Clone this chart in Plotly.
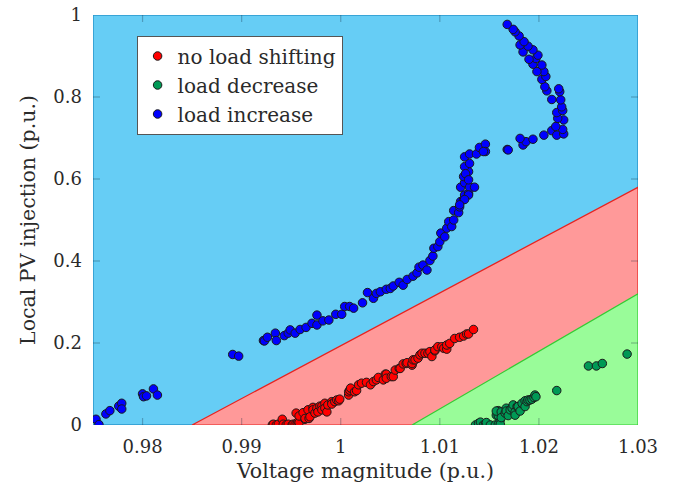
import plotly.graph_objects as go

# ---------------- data ----------------
blue_x = [0.9753, 0.9756, 0.9763, 0.9767, 0.9776, 0.9779, 0.9779, 0.9800, 0.9801, 0.9804,
          0.9811, 0.9815, 0.9891, 0.9897, 0.9922, 0.9923, 0.9926, 0.9934, 0.9935, 0.9943,
          0.9947, 0.9949, 0.9954, 0.9959, 0.9965, 0.9971, 0.9976, 0.9976, 0.9982, 0.9988,
          0.9995, 1.0001, 1.0004, 1.0009, 1.0013, 1.0022, 1.0027, 1.0033, 1.0036, 1.0040,
          1.0046, 1.0050, 1.0053, 1.0059, 1.0063, 1.0067, 1.0073, 1.0077, 1.0079, 1.0083,
          1.0087, 1.0090, 1.0093, 1.0094, 1.0098, 1.0100, 1.0101, 1.0105, 1.0107, 1.0109,
          1.0112, 1.0114, 1.0114, 1.0119, 1.0120, 1.0121, 1.0124, 1.0125, 1.0129, 1.0121,
          1.0125, 1.0130, 1.0135, 1.0124, 1.0129, 1.0125, 1.0130, 1.0125, 1.0130, 1.0137,
          1.0140, 1.0146, 1.0146, 1.0126, 1.0129, 1.0129, 1.0125, 1.0120, 1.0144,
          1.0168, 1.0169, 1.0184, 1.0187, 1.0181, 1.0194, 1.0205, 1.0213, 1.0218, 1.0225,
          1.0224, 1.0217, 1.0225, 1.0219, 1.0218, 1.0224, 1.0223, 1.0222, 1.0213, 1.0221,
          1.0220, 1.0208, 1.0206, 1.0203, 1.0207, 1.0205, 1.0198, 1.0203, 1.0194, 1.0197,
          1.0199, 1.0190, 1.0194, 1.0184, 1.0189, 1.0181, 1.0185, 1.0180, 1.0176, 1.0174,
          1.0168]
blue_y = [0.014, 0.001, 0.027, 0.035, 0.046, 0.053, 0.039, 0.076, 0.069, 0.071,
          0.088, 0.073, 0.172, 0.168, 0.206, 0.205, 0.214, 0.224, 0.206, 0.218,
          0.224, 0.232, 0.224, 0.233, 0.238, 0.248, 0.268, 0.244, 0.254, 0.256,
          0.270, 0.270, 0.289, 0.289, 0.285, 0.298, 0.323, 0.309, 0.321, 0.325,
          0.331, 0.333, 0.339, 0.348, 0.341, 0.355, 0.363, 0.371, 0.385, 0.390,
          0.378, 0.401, 0.412, 0.431, 0.435, 0.447, 0.468, 0.459, 0.480, 0.496,
          0.484, 0.500, 0.523, 0.518, 0.532, 0.545, 0.550, 0.561, 0.565, 0.580,
          0.591, 0.580, 0.580, 0.606, 0.618, 0.630, 0.638, 0.654, 0.661, 0.661,
          0.677, 0.685, 0.667, 0.613, 0.598, 0.561, 0.550, 0.537, 0.667,
          0.672, 0.671, 0.683, 0.691, 0.699, 0.697, 0.707, 0.718, 0.707, 0.710,
          0.721, 0.728, 0.744, 0.748, 0.762, 0.767, 0.776, 0.793, 0.794, 0.813,
          0.820, 0.815, 0.825, 0.843, 0.850, 0.862, 0.862, 0.878, 0.880, 0.894,
          0.902, 0.892, 0.915, 0.910, 0.924, 0.927, 0.935, 0.949, 0.959, 0.965,
          0.977]

red_x = [0.9931, 0.9932, 0.9935, 0.9937, 0.9941, 0.9942, 0.9945, 0.9947, 0.9951, 0.9952,
         0.9954, 0.9956, 0.9957, 0.9958, 0.9955, 0.9958, 0.9962, 0.9964, 0.9964, 0.9967,
         0.9968, 0.9969, 0.9972, 0.9972, 0.9974, 0.9976, 0.9977, 0.9979, 0.9981, 0.9981,
         0.9984, 0.9984, 0.9986, 0.9987, 0.9991, 0.9991, 0.9994, 0.9996, 0.9998, 0.9999,
         1.0008, 1.0008, 1.0009, 1.0010, 1.0014, 1.0016, 1.0018, 1.0021, 1.0026, 1.0030,
         1.0033, 1.0036, 1.0038, 1.0043, 1.0045, 1.0046, 1.0046, 1.0051, 1.0053, 1.0055,
         1.0059, 1.0060, 1.0063, 1.0066, 1.0067, 1.0072, 1.0072, 1.0073, 1.0075, 1.0078,
         1.0080, 1.0082, 1.0085, 1.0088, 1.0090, 1.0092, 1.0095, 1.0095, 1.0098, 1.0102,
         1.0104, 1.0107, 1.0107, 1.0110, 1.0115, 1.0120, 1.0124, 1.0127, 1.0129, 1.0134]
red_y = [0.000, 0.002, 0.000, 0.002, 0.014, 0.002, 0.000, 0.002, 0.000, 0.002,
         0.002, 0.004, 0.008, 0.006, 0.029, 0.022, 0.030, 0.014, 0.016, 0.037,
         0.016, 0.020, 0.043, 0.037, 0.029, 0.041, 0.032, 0.046, 0.046, 0.037,
         0.053, 0.041, 0.032, 0.049, 0.057, 0.051, 0.057, 0.061, 0.059, 0.063,
         0.073, 0.081, 0.085, 0.090, 0.081, 0.084, 0.098, 0.102, 0.104, 0.098,
         0.106, 0.110, 0.116, 0.110, 0.124, 0.124, 0.114, 0.118, 0.118, 0.134,
         0.138, 0.138, 0.149, 0.150, 0.152, 0.146, 0.150, 0.159, 0.159, 0.163,
         0.171, 0.175, 0.175, 0.175, 0.179, 0.167, 0.181, 0.183, 0.191, 0.191,
         0.187, 0.185, 0.195, 0.199, 0.211, 0.214, 0.217, 0.222, 0.222, 0.233]

green_x = [1.0136, 1.0139, 1.0141, 1.0144, 1.0146, 1.0147, 1.0151, 1.0156, 1.0159, 1.0161,
           1.0161, 1.0157, 1.0159, 1.0159, 1.0157, 1.0162, 1.0162, 1.0166, 1.0167, 1.0167,
           1.0169, 1.0171, 1.0173, 1.0174, 1.0176, 1.0176, 1.0178, 1.0179, 1.0181, 1.0183,
           1.0186, 1.0186, 1.0188, 1.0189, 1.0191, 1.0193, 1.0195, 1.0196, 1.0197, 1.0218,
           1.0250, 1.0258, 1.0264, 1.0289]
green_y = [0.000, 0.004, 0.007, 0.000, 0.002, 0.006, 0.000, 0.000, 0.002, 0.012,
           0.002, 0.024, 0.023, 0.035, 0.034, 0.032, 0.018, 0.029, 0.041, 0.034,
           0.023, 0.037, 0.041, 0.049, 0.032, 0.024, 0.045, 0.045, 0.034, 0.053,
           0.059, 0.045, 0.057, 0.061, 0.061, 0.063, 0.067, 0.073, 0.069, 0.084,
           0.144, 0.144, 0.150, 0.173]

# region boundaries (voltage, injection)
x_min, x_max = 0.975, 1.03
y_min, y_max = 0.0, 1.0
red_start, red_top = 0.985, 0.58
green_start, green_top = 1.0072, 0.32

x_ticks = [0.98, 0.99, 1.0, 1.01, 1.02, 1.03]
x_tick_text = ["0.98", "0.99", "1", "1.01", "1.02", "1.03"]
y_ticks = [0, 0.2, 0.4, 0.6, 0.8, 1.0]
y_tick_text = ["0", "0.2", "0.4", "0.6", "0.8", "1"]

FONT = "DejaVu Serif"
TICK_FS = 18
TITLE_FS = 20.5
LEG_FS = 20
TXT = "#2a2a2a"
TICK_COL = "rgba(20,40,60,0.3)"
TICK_LEN = 7

fig = go.Figure()

# background regions
fig.add_trace(go.Scatter(
    x=[x_min, x_max, x_max, x_min, x_min], y=[y_min, y_min, y_max, y_max, y_min],
    fill="toself", fillcolor="#66CDF5", mode="lines",
    line=dict(color="#2A96CC", width=1.5), showlegend=False, hoverinfo="skip"))
fig.add_trace(go.Scatter(
    x=[red_start, x_max, x_max, red_start], y=[y_min, red_top, y_min, y_min],
    fill="toself", fillcolor="#FF9999", mode="lines",
    line=dict(color="#E8231F", width=1.2), showlegend=False, hoverinfo="skip"))
fig.add_trace(go.Scatter(
    x=[green_start, x_max, x_max, green_start], y=[y_min, green_top, y_min, y_min],
    fill="toself", fillcolor="#99FC99", mode="lines",
    line=dict(color="#33CC33", width=1.2), showlegend=False, hoverinfo="skip"))

mk_line = dict(color="#1a1a1a", width=1)
fig.add_trace(go.Scatter(x=red_x, y=red_y, mode="markers", name="no load shifting",
                         marker=dict(size=8.5, color="#FF0000", line=mk_line)))
fig.add_trace(go.Scatter(x=green_x, y=green_y, mode="markers", name="load decrease",
                         marker=dict(size=8.5, color="#009955", line=mk_line)))
fig.add_trace(go.Scatter(x=blue_x, y=blue_y, mode="markers", name="load increase",
                         marker=dict(size=8.5, color="#0000FF", line=mk_line)))

# inside tick marks on all four sides (drawn as shapes over the filled regions)
tick_line = dict(color=TICK_COL, width=1.2)
for tv in x_ticks[:-1]:
    fig.add_shape(type="line", xref="x", yref="paper", ysizemode="pixel", yanchor=0,
                  x0=tv, x1=tv, y0=0, y1=TICK_LEN, line=tick_line, layer="above")
    fig.add_shape(type="line", xref="x", yref="paper", ysizemode="pixel", yanchor=1,
                  x0=tv, x1=tv, y0=0, y1=-TICK_LEN, line=tick_line, layer="above")
for tv in y_ticks[1:-1]:
    fig.add_shape(type="line", xref="paper", yref="y", xsizemode="pixel", xanchor=0,
                  x0=0, x1=TICK_LEN, y0=tv, y1=tv, line=tick_line, layer="above")
    fig.add_shape(type="line", xref="paper", yref="y", xsizemode="pixel", xanchor=1,
                  x0=0, x1=-TICK_LEN, y0=tv, y1=tv, line=tick_line, layer="above")

axis_common = dict(showgrid=False, zeroline=False, showline=False, ticks="",
                   tickfont=dict(family=FONT, size=TICK_FS, color=TXT))

fig.update_xaxes(range=[x_min, x_max], tickvals=x_ticks, ticktext=x_tick_text,
                 ticklabelstandoff=9,
                 title=dict(text="Voltage magnitude (p.u.)", standoff=7,
                            font=dict(family=FONT, size=TITLE_FS, color=TXT)),
                 **axis_common)
fig.update_yaxes(range=[y_min, y_max], tickvals=y_ticks, ticktext=y_tick_text,
                 ticklabelstandoff=10,
                 title=dict(text="Local PV injection (p.u.)", standoff=12,
                            font=dict(family=FONT, size=TITLE_FS, color=TXT)),
                 **axis_common)

fig.update_layout(
    width=686, height=488,
    margin=dict(l=93, r=48, t=15, b=63, autoexpand=False),
    paper_bgcolor="white", plot_bgcolor="white",
    font=dict(family=FONT, size=TICK_FS, color=TXT),
    legend=dict(x=0.08, y=0.95, xanchor="left", yanchor="top",
                bgcolor="white", bordercolor="#555555", borderwidth=1,
                font=dict(family=FONT, size=LEG_FS, color=TXT),
                itemwidth=30, tracegroupgap=0),
)

fig.write_html("out.html")
